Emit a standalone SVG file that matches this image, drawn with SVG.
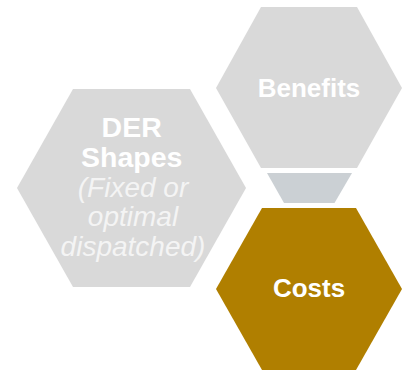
<svg xmlns="http://www.w3.org/2000/svg" width="405" height="370" viewBox="0 0 405 370">
<style>
.hex{fill:#D9D9D9}
.gold{fill:#B07F00}
.bold{font-family:"Liberation Sans",Arial,sans-serif;font-weight:bold;fill:#FFFFFF;text-anchor:middle}
.it{font-family:"Liberation Sans",Arial,sans-serif;font-style:italic;fill:#F4F4F4;text-anchor:middle;font-size:28px}
</style>
<rect width="405" height="370" fill="#FFFFFF"/>
<g id="der">
<polygon class="hex" points="73,89 190,89 246,188 190,287 73,287 17,188"/>
<text class="bold" x="131.7" y="137" font-size="28.5">DER</text>
<text class="bold" x="131.7" y="167" font-size="28.5">Shapes</text>
<text class="it" x="133" y="196.5">(Fixed or</text>
<text class="it" x="133" y="226">optimal</text>
<text class="it" x="133" y="255.5">dispatched)</text>
</g>
<g id="benefits">
<polygon class="hex" points="261,7 357,7 402,88 357,168 261,168 216,88"/>
<text class="bold" x="309" y="97" font-size="26">Benefits</text>
</g>
<g id="connectors">
<polygon fill="#CBD0D4" points="267,173 352,173 334.5,203 284,203"/>
</g>
<g id="costs">
<polygon class="gold" points="262,208 356,208 402,289 356,370 262,370 216,289"/>
<text class="bold" x="309" y="297" font-size="26">Costs</text>
</g>
</svg>
